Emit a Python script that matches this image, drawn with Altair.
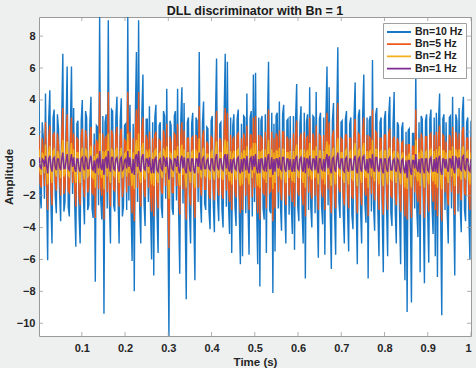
import altair as alt
import numpy as np
import pandas as pd

# Loop filter bandwidths shown in the legend (drawing order: widest first)
series_names = ["Bn=10 Hz", "Bn=5 Hz", "Bn=2 Hz", "Bn=1 Hz"]
series_colors = ["#1878c6", "#ef5a1c", "#f2b01c", "#7e2b94"]

# DLL discriminator output, one list per loop bandwidth.
# Each series is stored as even samples (*_even) and odd samples (*_odd).
bn10_even = [
    3.9, -2.8, 1.6, 4.4, -6.05, 4.6, -5.0, 3.4, -3.1, 2.2,
    -3.6, 6.9, -2.4, 6.1, -3.3, 6.1, 3.5, -5.2, 2.7, -5.0,
    4.0, -3.8, 2.9, -2.6, 4.2, -3.4, -7.4, 2.3, 9.2, -3.5,
    -9.4, 3.1, 9.0, -5.0, 3.3, -3.0, 4.2, -5.0, 4.1, -2.7,
    2.5, 9.2, 3.7, -6.1, -8.0, 7.0, 9.0, -5.0, 5.6, -3.9,
    2.8, 3.6, -6.0, -7.0, 3.7, -5.6, 2.6, -3.4, 3.0, 4.7,
    -10.8, 2.4, -3.2, 3.3, 4.7, -6.9, 4.8, 3.8, -8.5, 2.9,
    -5.0, 3.2, -7.3, 2.7, 7.0, -3.7, 3.9, -2.9, 2.2, -4.1,
    3.0, -4.3, 6.6, -3.6, 2.6, -4.0, 6.9, 6.4, -4.4, -5.6,
    3.1, -3.9, 3.4, -6.3, -5.8, 2.9, 4.4, -5.7, 3.3, 5.6,
    5.7, -6.3, -7.7, 3.0, -3.5, -5.6, 6.4, -3.1, -8.1, -5.5,
    3.2, 3.9, -4.2, 3.7, -5.0, 2.8, 3.0, -4.4, -5.4, 5.0,
    -3.6, 3.6, -5.0, -7.2, 3.1, 4.8, -4.0, 2.9, 4.5, -5.9,
    3.2, -3.8, -5.7, 6.1, 4.8, -6.6, 3.8, -5.7, 7.3, -3.4,
    2.7, -5.0, 3.3, -5.5, 2.9, -4.1, 5.1, -6.3, 3.4, -5.0,
    5.6, -3.7, -7.2, 3.0, 6.5, -4.2, 3.5, -5.8, 2.9, -6.8,
    3.3, -5.8, 4.2, -3.9, 4.5, -5.0, 2.4, -6.3, 2.6, -7.3,
    -9.3, 2.2, -8.7, 1.9, 5.8, -4.6, -6.8, 2.8, -7.5, 3.1,
    -6.2, 3.4, -4.4, -5.8, -7.1, 4.4, -9.5, 3.1, 2.6, -5.0,
    3.0, 4.2, -7.0, 2.7, 3.5, -4.3, 4.2, -3.6, 2.9, -6.0,
]
bn10_odd = [
    -1.9, 2.6, -2.2, -1.5, 2.8, -2.4, 2.9, -2.0, 3.1, -1.8,
    2.9, -3.0, 2.4, -2.7, 2.2, -1.9, -2.6, 2.5, -3.2, 2.7,
    -2.1, 3.3, -2.9, 2.6, -2.8, 1.9, 2.4, -2.6, -2.2, 3.0,
    2.6, -2.8, -2.4, 3.4, -2.6, 2.9, -2.1, 2.7, -3.3, 2.4,
    -2.9, -2.3, -2.7, 2.5, 3.1, -2.4, -2.8, 3.2, -2.5, 2.8,
    -2.4, -2.9, 2.6, 2.9, -3.1, 2.4, -2.7, 3.3, -2.2, -2.6,
    2.7, -2.8, 3.0, -2.3, -3.1, 2.8, -2.5, -3.2, 2.6, -3.0,
    2.5, -3.3, 2.9, -2.4, -2.2, 2.6, -2.5, 2.3, -3.0, 2.7,
    -2.6, 3.0, -2.3, 2.5, -2.9, 3.1, -2.7, -2.5, 2.9, 2.4,
    -2.7, 2.8, -3.2, 2.5, 3.0, -3.1, -2.5, 2.9, -3.3, -2.4,
    -2.6, 2.9, 2.7, -2.8, 3.1, 2.6, -2.9, 3.2, 2.5, 3.0,
    -2.8, -2.6, 3.1, -2.9, 2.7, -3.2, -2.6, 3.0, 2.8, -2.7,
    2.5, -3.0, 3.2, 2.6, -2.9, -2.7, 3.0, -3.1, -2.6, 2.8,
    -2.7, 2.9, 3.0, -2.6, -3.1, 2.7, -3.0, 2.8, -2.4, 2.6,
    -3.1, 2.8, -2.9, 2.5, -3.2, 2.9, -2.6, 3.0, -2.8, 3.1,
    -2.5, 2.9, 2.7, -3.0, -2.6, 3.1, -2.9, 2.6, -3.2, 2.8,
    -2.7, 3.0, -3.1, 2.4, -2.9, 2.6, -3.0, 2.2, -2.8, 2.0,
    2.1, -3.1, 1.9, -2.8, -3.0, 2.6, 3.0, -2.9, 2.7, -3.1,
    2.8, -2.6, 2.9, 3.2, 2.7, -3.3, 2.8, -2.9, -3.0, 2.9,
    -2.8, -2.5, 3.1, -3.0, -2.7, 3.2, -2.9, 2.6, -3.1, 2.7,
]
bn5_even = [
    1.8, -1.5, 0.9, 2.6, -2.9, 2.4, -2.6, 1.9, -1.7, 1.2,
    -2.0, 3.5, -1.4, 3.1, -1.8, 2.9, 1.9, -2.7, 1.5, -2.6,
    2.2, -2.1, 1.6, -1.5, 2.3, -1.9, -3.4, 1.3, 4.5, -2.0,
    -3.5, 1.7, 4.5, -2.7, 1.8, -1.7, 2.3, -2.7, 2.2, -1.5,
    1.4, 4.5, 2.0, -3.1, -3.6, 3.4, 4.5, -2.7, 2.9, -2.1,
    1.5, 2.0, -3.0, -3.3, 2.0, -2.8, 1.4, -1.9, 1.6, 2.5,
    -5.3, 1.3, -1.8, 1.8, 2.5, -3.2, 2.6, 2.1, -3.5, 1.6,
    -2.6, 1.7, -3.4, 1.5, 3.6, -2.0, 2.1, -1.6, 1.2, -2.2,
    1.6, -2.3, 3.3, -2.0, 1.4, -2.2, 3.5, 3.2, -2.4, -2.9,
    1.7, -2.1, 1.9, -3.1, -2.9, 1.6, 2.4, -2.9, 1.8, 2.9,
    3.0, -3.1, -3.5, 1.6, -1.9, -2.8, 3.4, -1.7, -3.6, -2.8,
    1.7, 2.1, -2.3, 2.0, -2.6, 1.5, 1.6, -2.4, -2.7, 2.7,
    -2.0, 1.9, -2.6, -3.3, 1.7, 2.9, -2.2, 1.6, 2.4, -2.9,
    1.7, -2.1, -2.9, 3.2, 2.6, -3.1, 2.1, -2.8, 3.8, -1.8,
    1.5, -2.6, 1.8, -2.8, 1.6, -2.2, 2.8, -3.1, 1.8, -2.6,
    2.9, -2.0, -3.3, 1.6, 3.4, -2.3, 1.9, -2.9, 1.6, -3.2,
    1.8, -2.9, 2.2, -2.1, 1.7, -2.6, 1.3, -3.0, 1.4, -3.3,
    -3.5, 1.2, -3.4, 1.1, 3.4, -2.4, -3.2, 1.5, -3.4, 1.7,
    -3.0, 1.9, -2.4, -2.9, -3.3, 2.4, -3.6, 1.7, 1.4, -2.6,
    1.6, 2.3, -3.2, 1.5, 1.9, -2.3, 2.3, -2.0, 1.6, -2.9,
]
bn5_odd = [
    -1.2, 1.6, -1.4, -0.9, 1.7, -1.5, 1.8, -1.1, 1.9, -1.0,
    1.8, -1.9, 1.5, -1.7, 1.4, -1.2, -1.6, 1.6, -2.0, 1.7,
    -1.3, 2.1, -1.8, 1.6, -1.8, 1.2, 1.5, -1.6, -1.4, 1.9,
    1.6, -1.8, -1.5, 2.1, -1.6, 1.8, -1.3, 1.7, -2.1, 1.5,
    -1.8, -1.4, -1.7, 1.6, 2.0, -1.5, -1.8, 2.0, -1.6, 1.8,
    -1.5, -1.8, 1.6, 1.8, -2.0, 1.5, -1.7, 2.1, -1.4, -1.6,
    1.7, -1.8, 1.9, -1.4, -2.0, 1.8, -1.6, -2.0, 1.6, -1.9,
    1.6, -2.1, 1.8, -1.5, -1.4, 1.6, -1.6, 1.4, -1.9, 1.7,
    -1.6, 1.9, -1.4, 1.6, -1.8, 2.0, -1.7, -1.6, 1.8, 1.5,
    -1.7, 1.8, -2.0, 1.6, 1.9, -2.0, -1.6, 1.8, -2.1, -1.5,
    -1.6, 1.8, 1.7, -1.8, 2.0, 1.6, -1.8, 2.0, 1.6, 1.9,
    -1.8, -1.6, 2.0, -1.8, 1.7, -2.0, -1.6, 1.9, 1.8, -1.7,
    1.6, -1.9, 2.0, 1.6, -1.8, -1.7, 1.9, -2.0, -1.6, 1.8,
    -1.7, 1.8, 1.9, -1.6, -2.0, 1.7, -1.9, 1.8, -1.5, 1.6,
    -2.0, 1.8, -1.8, 1.6, -2.0, 1.8, -1.6, 1.9, -1.8, 2.0,
    -1.6, 1.8, 1.7, -1.9, -1.6, 2.0, -1.8, 1.6, -2.0, 1.8,
    -1.7, 1.9, -2.0, 1.5, -1.8, 1.6, -1.9, 1.3, -1.8, 1.2,
    1.2, -2.0, 1.1, -1.8, -1.9, 1.6, 1.9, -1.8, 1.7, -2.0,
    1.8, -1.6, 1.8, 2.0, 1.7, -2.1, 1.8, -1.8, -1.9, 1.8,
    -1.8, -1.6, 2.0, -1.9, -1.7, 2.0, -1.8, 1.6, -2.0, 1.7,
]
bn2_even = [
    0.9, -0.7, 0.5, 1.2, -1.3, 1.1, -1.2, 0.9, -0.8, 0.6,
    -0.9, 1.5, -0.6, 1.4, -0.8, 1.3, 0.9, -1.2, 0.7, -1.2,
    1.0, -1.0, 0.8, -0.7, 1.1, -0.9, -1.5, 0.6, 1.9, -0.9,
    -1.6, 0.8, 1.9, -1.2, 0.8, -0.8, 1.0, -1.2, 1.0, -0.7,
    0.7, 1.9, 0.9, -1.4, -1.6, 1.5, 1.9, -1.2, 1.3, -1.0,
    0.7, 0.9, -1.3, -1.4, 0.9, -1.2, 0.7, -0.9, 0.8, 1.1,
    -2.2, 0.6, -0.8, 0.8, 1.1, -1.4, 1.2, 0.9, -1.5, 0.7,
    -1.2, 0.8, -1.5, 0.7, 1.6, -0.9, 1.0, -0.8, 0.6, -1.0,
    0.8, -1.0, 1.4, -0.9, 0.7, -1.0, 1.5, 1.4, -1.1, -1.3,
    0.8, -1.0, 0.9, -1.4, -1.3, 0.8, 1.1, -1.3, 0.9, 1.3,
    1.3, -1.4, -1.5, 0.8, -0.9, -1.2, 1.5, -0.8, -1.6, -1.2,
    0.8, 1.0, -1.0, 0.9, -1.2, 0.7, 0.8, -1.1, -1.2, 1.2,
    -0.9, 0.9, -1.2, -1.5, 0.8, 1.3, -1.0, 0.8, 1.1, -1.3,
    0.8, -1.0, -1.3, 1.4, 1.2, -1.4, 1.0, -1.3, 1.6, -0.8,
    0.7, -1.2, 0.9, -1.3, 0.8, -1.0, 1.3, -1.4, 0.9, -1.2,
    1.3, -0.9, -1.5, 0.8, 1.5, -1.1, 0.9, -1.3, 0.8, -1.4,
    0.8, -1.3, 1.0, -1.0, 0.8, -1.2, 0.6, -1.3, 0.7, -1.5,
    -1.6, 0.6, -1.5, 0.5, 1.5, -1.1, -1.4, 0.7, -1.5, 0.8,
    -1.3, 0.9, -1.1, -1.3, -1.5, 1.1, -1.6, 0.8, 0.7, -1.2,
    0.8, 1.1, -1.4, 0.7, 0.9, -1.0, 1.1, -0.9, 0.8, -1.3,
]
bn2_odd = [
    -0.5, 0.7, -0.6, -0.4, 0.7, -0.6, 0.8, -0.5, 0.8, -0.4,
    0.8, -0.8, 0.6, -0.7, 0.6, -0.5, -0.7, 0.7, -0.8, 0.7,
    -0.6, 0.9, -0.8, 0.7, -0.8, 0.5, 0.6, -0.7, -0.6, 0.8,
    0.7, -0.8, -0.6, 0.9, -0.7, 0.8, -0.6, 0.7, -0.9, 0.6,
    -0.8, -0.6, -0.7, 0.7, 0.9, -0.6, -0.8, 0.9, -0.7, 0.8,
    -0.6, -0.8, 0.7, 0.8, -0.9, 0.6, -0.7, 0.9, -0.6, -0.7,
    0.7, -0.8, 0.8, -0.6, -0.9, 0.8, -0.7, -0.9, 0.7, -0.8,
    0.7, -0.9, 0.8, -0.6, -0.6, 0.7, -0.7, 0.6, -0.8, 0.7,
    -0.7, 0.8, -0.6, 0.7, -0.8, 0.9, -0.7, -0.7, 0.8, 0.6,
    -0.7, 0.8, -0.9, 0.7, 0.8, -0.9, -0.7, 0.8, -0.9, -0.6,
    -0.7, 0.8, 0.7, -0.8, 0.9, 0.7, -0.8, 0.9, 0.7, 0.8,
    -0.8, -0.7, 0.9, -0.8, 0.7, -0.9, -0.7, 0.8, 0.8, -0.7,
    0.7, -0.8, 0.9, 0.7, -0.8, -0.7, 0.8, -0.9, -0.7, 0.8,
    -0.7, 0.8, 0.8, -0.7, -0.9, 0.7, -0.8, 0.8, -0.6, 0.7,
    -0.9, 0.8, -0.8, 0.7, -0.9, 0.8, -0.7, 0.8, -0.8, 0.9,
    -0.7, 0.8, 0.7, -0.8, -0.7, 0.9, -0.8, 0.7, -0.9, 0.8,
    -0.7, 0.8, -0.9, 0.6, -0.8, 0.7, -0.8, 0.5, -0.8, 0.5,
    0.5, -0.9, 0.5, -0.8, -0.8, 0.7, 0.8, -0.8, 0.7, -0.9,
    0.8, -0.7, 0.8, 0.9, 0.7, -0.9, 0.8, -0.8, -0.8, 0.8,
    -0.8, -0.7, 0.9, -0.8, -0.7, 0.9, -0.8, 0.7, -0.9, 0.7,
]
bn1_even = [
    0.4, -0.3, 0.2, 0.5, -0.6, 0.5, -0.5, 0.4, -0.4, 0.3,
    -0.4, 0.7, -0.3, 0.6, -0.4, 0.6, 0.4, -0.5, 0.3, -0.5,
    0.4, -0.4, 0.3, -0.3, 0.5, -0.4, -0.6, 0.3, 0.8, -0.4,
    -0.7, 0.4, 0.8, -0.5, 0.4, -0.4, 0.4, -0.5, 0.4, -0.3,
    0.3, 0.8, 0.4, -0.6, -0.7, 0.6, 0.8, -0.5, 0.6, -0.4,
    0.3, 0.4, -0.6, -0.6, 0.4, -0.5, 0.3, -0.4, 0.3, 0.4,
    -1.0, 0.2, -0.4, 0.3, 0.5, -0.6, 0.5, 0.4, -0.6, 0.3,
    -0.5, 0.3, -0.6, 0.3, 0.7, -0.4, 0.4, -0.3, 0.3, -0.4,
    0.3, -0.4, 0.6, -0.4, 0.3, -0.4, 0.6, 0.6, -0.5, -0.6,
    0.3, -0.4, 0.4, -0.6, -0.5, 0.3, 0.5, -0.6, 0.4, 0.5,
    0.6, -0.6, -0.6, 0.3, -0.4, -0.5, 0.6, -0.3, -0.7, -0.5,
    0.3, 0.4, -0.4, 0.4, -0.5, 0.3, 0.3, -0.5, -0.5, 0.5,
    -0.4, 0.4, -0.5, -0.6, 0.3, 0.5, -0.4, 0.3, 0.5, -0.6,
    0.3, -0.4, -0.5, 0.6, 0.5, -0.6, 0.4, -0.5, 0.7, -0.3,
    0.3, -0.5, 0.4, -0.5, 0.3, -0.4, 0.5, -0.6, 0.4, -0.5,
    0.5, -0.4, -0.6, 0.3, 0.6, -0.5, 0.4, -0.5, 0.3, -0.6,
    0.3, -0.5, 0.4, -0.4, 0.3, -0.5, 0.2, -0.6, 0.3, -0.6,
    -0.9, 0.2, -0.7, 0.2, 0.6, -0.5, -0.6, 0.3, -0.6, 0.3,
    -0.5, 0.4, -0.5, -0.5, -0.6, 0.5, -0.7, 0.3, 0.3, -0.5,
    0.3, 0.5, -0.6, 0.3, 0.4, -0.4, 0.5, -0.4, 0.3, -0.5,
]
bn1_odd = [
    -0.2, 0.3, -0.2, -0.1, 0.3, -0.2, 0.3, -0.2, 0.3, -0.2,
    0.3, -0.3, 0.2, -0.3, 0.2, -0.2, -0.3, 0.3, -0.3, 0.3,
    -0.2, 0.4, -0.3, 0.3, -0.3, 0.2, 0.2, -0.3, -0.2, 0.3,
    0.3, -0.3, -0.2, 0.4, -0.3, 0.3, -0.2, 0.3, -0.4, 0.2,
    -0.3, -0.2, -0.3, 0.3, 0.4, -0.2, -0.3, 0.4, -0.3, 0.3,
    -0.2, -0.3, 0.3, 0.3, -0.4, 0.2, -0.3, 0.4, -0.2, -0.3,
    0.3, -0.3, 0.3, -0.2, -0.4, 0.3, -0.3, -0.4, 0.3, -0.3,
    0.3, -0.4, 0.3, -0.2, -0.2, 0.3, -0.3, 0.2, -0.3, 0.3,
    -0.3, 0.3, -0.2, 0.3, -0.3, 0.4, -0.3, -0.3, 0.3, 0.2,
    -0.3, 0.3, -0.4, 0.3, 0.3, -0.4, -0.3, 0.3, -0.4, -0.2,
    -0.3, 0.3, 0.3, -0.3, 0.4, 0.3, -0.3, 0.4, 0.3, 0.3,
    -0.3, -0.3, 0.4, -0.3, 0.3, -0.4, -0.3, 0.3, 0.3, -0.3,
    0.3, -0.3, 0.4, 0.3, -0.3, -0.3, 0.3, -0.4, -0.3, 0.3,
    -0.3, 0.3, 0.3, -0.3, -0.4, 0.3, -0.3, 0.3, -0.2, 0.3,
    -0.4, 0.3, -0.3, 0.3, -0.4, 0.3, -0.3, 0.3, -0.3, 0.4,
    -0.3, 0.3, 0.3, -0.3, -0.3, 0.4, -0.3, 0.3, -0.4, 0.3,
    -0.3, 0.3, -0.4, 0.2, -0.3, 0.3, -0.3, 0.2, -0.3, 0.2,
    0.2, -0.4, 0.2, -0.3, -0.3, 0.3, 0.3, -0.3, 0.3, -0.4,
    0.3, -0.3, 0.3, 0.4, 0.3, -0.4, 0.3, -0.3, -0.3, 0.3,
    -0.3, -0.3, 0.4, -0.3, -0.3, 0.4, -0.3, 0.3, -0.4, 0.3,
]


def interleave(even, odd):
    out = []
    for a, b in zip(even, odd):
        out.extend([a, b])
    return out


series_values = [
    interleave(bn10_even, bn10_odd),
    interleave(bn5_even, bn5_odd),
    interleave(bn2_even, bn2_odd),
    interleave(bn1_even, bn1_odd),
]

# Sample instants over one second
t_start, t_end = 0.001, 1.0
time = np.linspace(t_start, t_end, len(series_values[0]))

x_ticks = [0.1, 0.2, 0.3, 0.4, 0.5, 0.6, 0.7, 0.8, 0.9, 1.0]
y_ticks = [-10, -8, -6, -4, -2, 0, 2, 4, 6, 8]
y_min, y_max = -10.8, 9.2

W, H = 432, 319
FONT = "Liberation Sans"
AXIS_GRAY = "#9a9a9a"

x_scale = alt.Scale(domain=[t_start, t_end], nice=False, zero=False)
y_scale = alt.Scale(domain=[y_min, y_max], nice=False, zero=False)
color_scale = alt.Scale(domain=series_names, range=series_colors)
x_axis = alt.Axis(values=x_ticks, format=".1~f", title="Time (s)")
y_axis = alt.Axis(values=y_ticks, format="d", title="Amplitude")

legend = alt.Legend(
    title=None,
    orient="none",
    legendX=344,
    legendY=6,
    symbolType="stroke",
    symbolSize=576,
    symbolStrokeWidth=1.8,
    clipHeight=12,
    rowPadding=0.2,
    labelFont=FONT,
    labelFontSize=10.5,
    labelFontWeight="bold",
    labelColor="#222222",
    labelOffset=3,
    fillColor="white",
    strokeColor="#a0a0a0",
    padding=3,
)


def trace(name, values):
    df = pd.DataFrame({"t": time, "v": values, "series": name})
    return alt.Chart(df).mark_line(strokeWidth=1.4, clip=True).encode(
        x=alt.X("t:Q", scale=x_scale, axis=x_axis),
        y=alt.Y("v:Q", scale=y_scale, axis=y_axis),
        color=alt.Color("series:N", scale=color_scale, legend=legend),
    )


traces = [trace(n, v) for n, v in zip(series_names, series_values)]

# Inward tick marks on all four sides of the box
tl = 4
xt = pd.DataFrame({"t": x_ticks})
yt = pd.DataFrame({"v": y_ticks})
tick_style = dict(color=AXIS_GRAY, strokeWidth=0.8)
ticks_bottom = alt.Chart(xt).mark_rule(**tick_style).encode(
    x=alt.X("t:Q", scale=x_scale, axis=x_axis), y=alt.value(H), y2=alt.value(H - tl))
ticks_top = alt.Chart(xt).mark_rule(**tick_style).encode(
    x=alt.X("t:Q", scale=x_scale, axis=x_axis), y=alt.value(0), y2=alt.value(tl))
ticks_left = alt.Chart(yt).mark_rule(**tick_style).encode(
    y=alt.Y("v:Q", scale=y_scale, axis=y_axis), x=alt.value(0), x2=alt.value(tl))
ticks_right = alt.Chart(yt).mark_rule(**tick_style).encode(
    y=alt.Y("v:Q", scale=y_scale, axis=y_axis), x=alt.value(W), x2=alt.value(W - tl))

chart = alt.layer(
    *traces, ticks_bottom, ticks_top, ticks_left, ticks_right
).properties(
    width=W,
    height=H,
    title=alt.TitleParams(
        "DLL discriminator with Bn = 1",
        font=FONT,
        fontSize=12.5,
        fontWeight="bold",
        color="#1a1a1a",
        offset=1,
        dy=2,
        anchor="middle",
    ),
    background="#eef0f0",
    padding={"left": 39, "top": 17, "right": 5, "bottom": 32},
    autosize=alt.AutoSizeParams(type="none"),
).configure_view(
    fill="white", stroke=AXIS_GRAY, strokeWidth=1
).configure_axis(
    grid=False,
    ticks=False,
    domain=False,
    labelFont=FONT,
    labelFontSize=11,
    labelFontWeight="bold",
    labelColor="#262626",
    titleFont=FONT,
    titleFontSize=11.5,
    titleFontWeight="bold",
    titleColor="#262626",
).configure_axisX(
    labelPadding=6, titlePadding=3
).configure_axisY(
    labelPadding=4, titlePadding=2
)

chart.save("out.html", embed_options={"renderer": "svg", "actions": False})
